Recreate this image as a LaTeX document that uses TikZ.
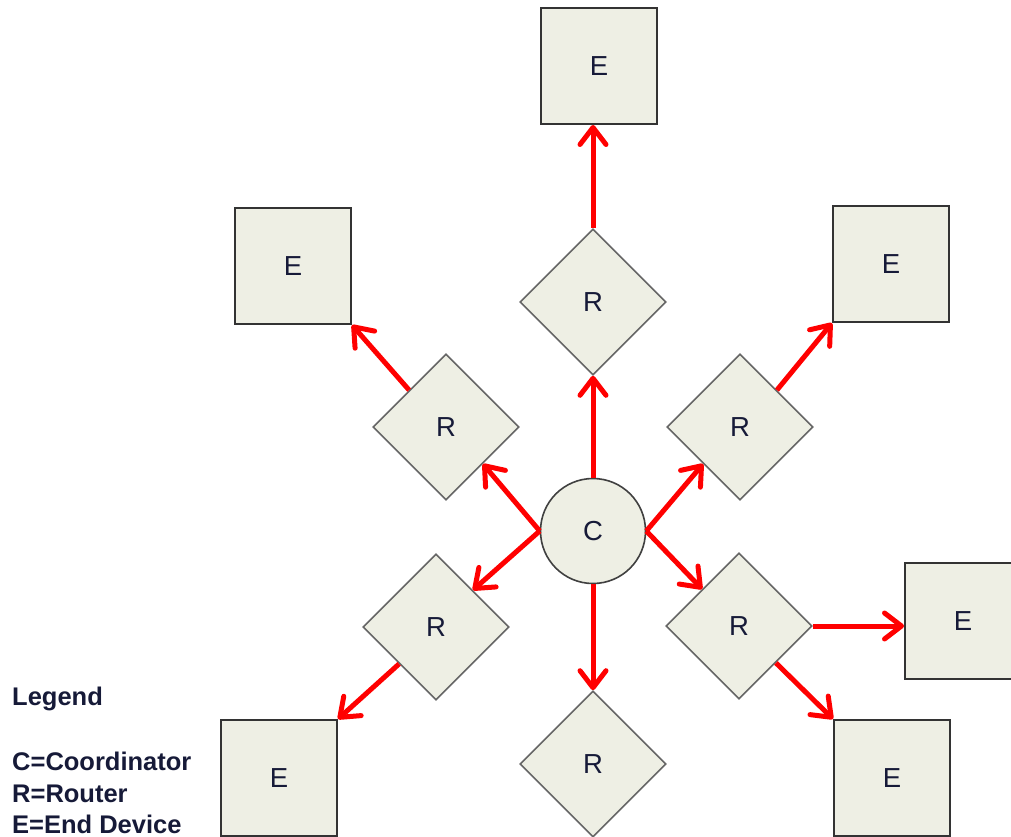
\documentclass[tikz,border=0pt]{standalone}
\usepackage{fontspec}
\setmainfont{Liberation Sans}
\usetikzlibrary{shapes.geometric}
\usetikzlibrary{arrows.meta}

\definecolor{nodefill}{RGB}{238,239,228}
\definecolor{labelink}{RGB}{22,26,56}

\begin{document}
\begin{tikzpicture}[x=1pt, y=-1pt,
        enddevice/.style={rectangle, draw=black!80, line width=2pt, fill=nodefill,
            minimum size=116pt, inner sep=0pt, text=labelink, font=\fontsize{27.5}{30}\selectfont},
        router/.style={diamond, aspect=1, draw=black!60, line width=1.6pt, fill=nodefill,
            minimum size=146pt, inner sep=0pt, text=labelink, font=\fontsize{27.5}{30}\selectfont},
        coordinator/.style={circle, draw=black!75, line width=1.6pt, fill=nodefill,
            minimum size=105pt, inner sep=0pt, text=labelink, font=\fontsize{27.5}{30}\selectfont},
        link/.style={draw=red, line width=5pt, -{Straight Barb[length=17pt, width=26pt, round]}},
        legendline/.style={anchor=base west, inner sep=0pt, text=labelink,
            font=\bfseries\fontsize{25.5}{30}\selectfont}]
    \useasboundingbox (0,0) rectangle (1011,837);

    % coordinator and routers
    \node[coordinator] (C) at (593,531) {C};
    \node[router] (tR)  at (593,302) {R};
    \node[router] (ulR) at (446,427) {R};
    \node[router] (urR) at (740,427) {R};
    \node[router] (llR) at (436,627) {R};
    \node[router] (lrR) at (739,626) {R};
    \node[router] (bR)  at (593,764) {R};

    % end devices
    \node[enddevice] (tE)  at (599,66)  {E};
    \node[enddevice] (ulE) at (293,266) {E};
    \node[enddevice] (urE) at (891,264) {E};
    \node[enddevice] (rE)  at (963,621) {E};
    \node[enddevice] (lrE) at (892,778) {E};
    \node[enddevice] (llE) at (279,778) {E};

    % links
    \draw[link] (C.north) -- (tR.south);
    \draw[link] (C.south) -- (bR.north);
    \draw[link] (C.west) -- (ulR.south east);
    \draw[link] (C.west) -- (llR.north east);
    \draw[link] (C.east) -- (urR.south west);
    \draw[link] (C.east) -- (lrR.north west);
    \draw[link] (tR.north) -- (tR.north |- tE.south);
    \draw[link] (ulR.north west) -- (ulE.south east);
    \draw[link] (urR.north east) -- (urE.south west);
    \draw[link] (llR.south west) -- (llE.north east);
    \draw[link] (lrR.east) -- (lrR.east -| rE.west);
    \draw[link] (lrR.south east) -- (lrE.north west);

    % legend
    \node[legendline] (legend)  at (12,705) {Legend};
    \node[legendline] (legendC) at (12,770) {C=Coordinator};
    \node[legendline] (legendR) at (12,802) {R=Router};
    \node[legendline] (legendE) at (12,833) {E=End Device};
\end{tikzpicture}
\end{document}
